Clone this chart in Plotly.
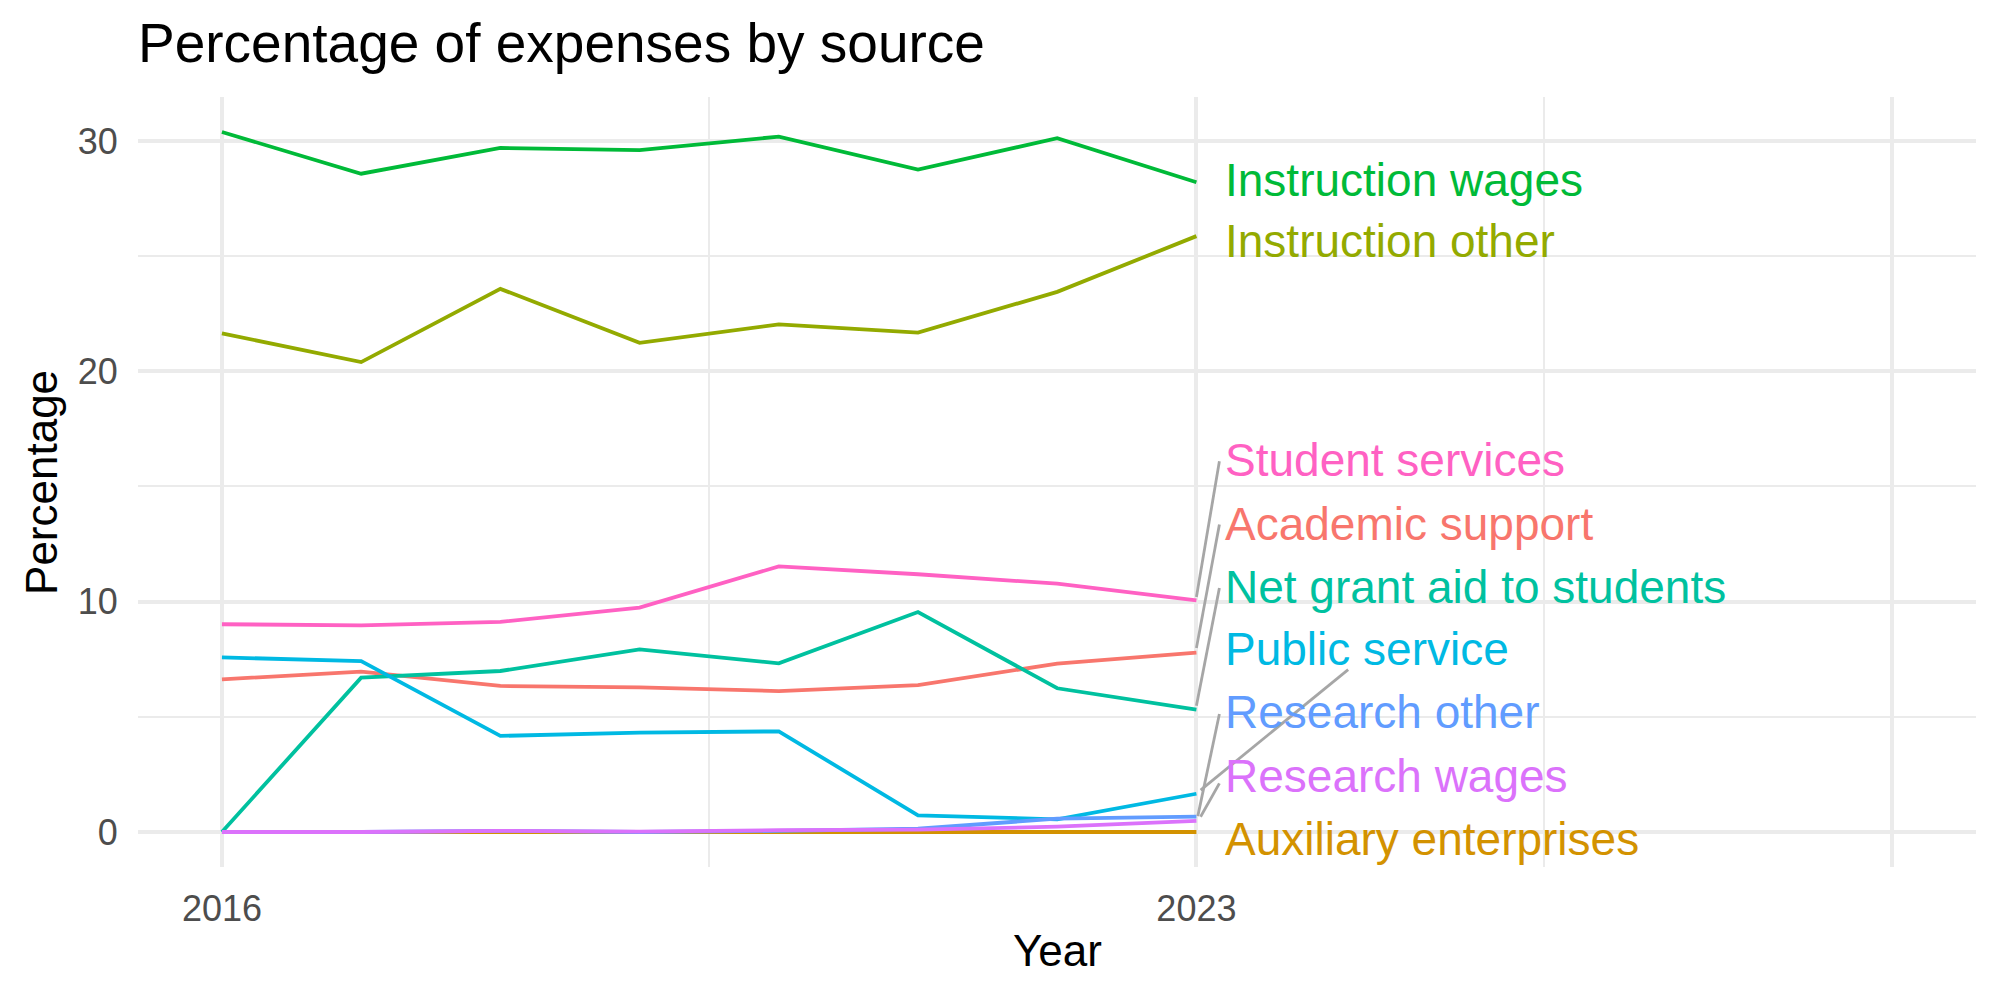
import plotly.graph_objects as go

years = [2016, 2017, 2018, 2019, 2020, 2021, 2022, 2023]

categories = [
    "Academic support", "Auxiliary enterprises", "Instruction other",
    "Instruction wages", "Net grant aid to students", "Public service",
    "Research other", "Research wages", "Student services",
]

academic_support = [6.63, 6.96, 6.34, 6.28, 6.12, 6.38, 7.31, 7.79]
auxiliary_enterprises = [0.0, 0.0, 0.0, 0.0, 0.0, 0.0, 0.0, 0.0]
instruction_other = [21.65, 20.40, 23.58, 21.24, 22.04, 21.68, 23.45, 25.87]
instruction_wages = [30.39, 28.58, 29.70, 29.60, 30.19, 28.76, 30.12, 28.21]
net_grant_aid = [0.0, 6.70, 6.99, 7.93, 7.32, 9.55, 6.24, 5.31]
public_service = [7.58, 7.42, 4.17, 4.31, 4.37, 0.72, 0.55, 1.66]
research_other = [0.0, 0.0, 0.05, 0.0, 0.05, 0.14, 0.58, 0.67]
research_wages = [0.0, 0.0, 0.05, 0.02, 0.08, 0.10, 0.23, 0.48]
student_services = [9.02, 8.97, 9.12, 9.74, 11.53, 11.19, 10.78, 10.06]

series = [academic_support, auxiliary_enterprises, instruction_other,
          instruction_wages, net_grant_aid, public_service,
          research_other, research_wages, student_services]

colors = ["#F8766D", "#D39200", "#93AA00", "#00BA38", "#00C19F",
          "#00B9E3", "#619CFF", "#DB72FB", "#FF61C3"]

# repelled label positions (y in data units)
label_y = [13.38, -0.31, 25.65, 28.31, 10.64, 7.93, 5.21, 2.45, 16.13]
label_x = 2023.19

# connector segments: (x0, y0, x1, y1) for labels that were moved
segments = {
    "Student services": (2023.0, 10.2, 2023.165, 16.1),
    "Academic support": (2023.0, 7.99, 2023.165, 13.35),
    "Net grant aid to students": (2023.0, 5.48, 2023.165, 10.59),
    "Public service": (2023.03, 1.82, 2024.09, 7.05),
    "Research other": (2023.01, 0.69, 2023.165, 5.12),
    "Research wages": (2023.03, 0.66, 2023.165, 2.11),
}

FONT = "Liberation Sans, Arial, Helvetica, sans-serif"

fig = go.Figure()
for name, vals, col in zip(categories, series, colors):
    fig.add_trace(go.Scatter(x=years, y=vals, mode="lines", name=name,
                             line=dict(color=col, width=3.8), showlegend=False))

for name, (x0, y0, x1, y1) in segments.items():
    fig.add_shape(type="line", xref="x", yref="y", x0=x0, y0=y0, x1=x1, y1=y1,
                  line=dict(color="#A6A6A6", width=2.8))

for name, ly, col in zip(categories, label_y, colors):
    fig.add_annotation(x=label_x, y=ly, xref="x", yref="y", text=name,
                       showarrow=False, xanchor="left", yanchor="middle",
                       font=dict(family=FONT, size=46, color=col))

fig.add_annotation(x=0.5, y=-0.108, xref="paper", yref="paper", text="Year",
                   showarrow=False, xanchor="center", yanchor="middle",
                   font=dict(family=FONT, size=44, color="black"))
fig.add_annotation(x=-0.0528, y=0.5, xref="paper", yref="paper", text="Percentage",
                   showarrow=False, xanchor="center", yanchor="middle", textangle=-90,
                   font=dict(family=FONT, size=44, color="black"))

fig.update_layout(
    width=2000, height=1000,
    margin=dict(l=138, r=24, t=97, b=133),
    paper_bgcolor="white", plot_bgcolor="white",
    title=dict(text="Percentage of expenses by source", x=0.069, xref="container",
               xanchor="left", y=0.957, yanchor="middle",
               font=dict(family=FONT, size=55, color="black")),
    xaxis=dict(range=[2015.397, 2028.6], tickvals=[2016, 2023, 2028],
               ticktext=["2016", "2023", ""], showgrid=True, gridcolor="#EBEBEB",
               gridwidth=3.5, zeroline=False, showline=False,
               ticks="outside", ticklen=10, tickcolor="rgba(0,0,0,0)",
               tickfont=dict(family=FONT, size=36, color="#4D4D4D"),
               minor=dict(tickvals=[2019.5, 2025.5], showgrid=True,
                          gridcolor="#EBEBEB", gridwidth=1.8)),
    yaxis=dict(range=[-1.52, 31.91], tickvals=[0, 10, 20, 30],
               showgrid=True, gridcolor="#EBEBEB", gridwidth=3.5,
               zeroline=False, showline=False,
               ticks="outside", ticklen=12, tickcolor="rgba(0,0,0,0)",
               tickfont=dict(family=FONT, size=36, color="#4D4D4D"),
               minor=dict(tickvals=[5, 15, 25], showgrid=True,
                          gridcolor="#EBEBEB", gridwidth=1.8)),
)

fig.write_html("out.html")
